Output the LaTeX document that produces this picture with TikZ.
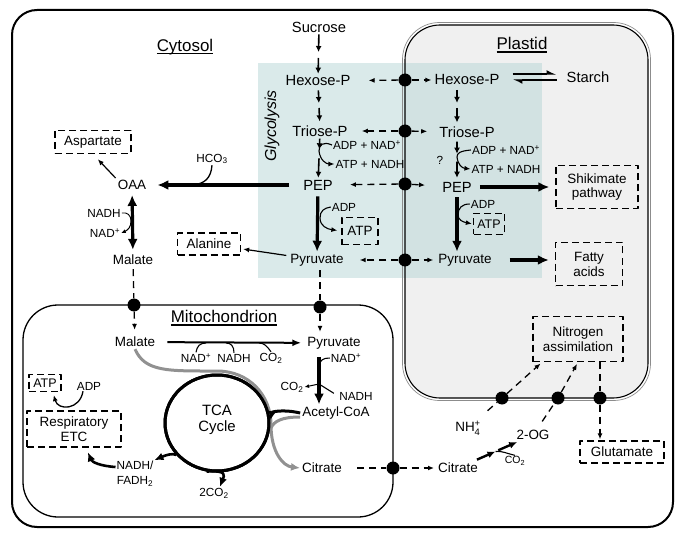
\documentclass[tikz,border=0pt]{standalone}
\usepackage{amsmath}
\usepackage{fontspec}
\setmainfont{Liberation Sans}
\usepackage{tikz}
\usetikzlibrary{arrows.meta,shapes,calc}

\definecolor{glyteal}{RGB}{181,213,213}
\definecolor{plgrey}{RGB}{240,240,240}
\definecolor{tcagrey}{RGB}{145,145,145}

\newcommand{\ulbox}[1]{\setbox0\hbox{#1}\rlap{\rule[-3bp]{\wd0}{1.5bp}}\box0}

\tikzset{
  met/.style={font=\fontsize{13.5}{15}\selectfont, inner sep=2bp},
  bigmet/.style={font=\fontsize{14.8}{16}\selectfont, inner sep=2bp},
  cof/.style={font=\fontsize{11.8}{13.5}\selectfont, inner sep=1bp},
  compt/.style={font=\fontsize{17}{19}\selectfont, inner sep=1bp},
  dbox/.style={draw, line width=1.4bp, dash pattern=on 7bp off 4bp, align=center,
               font=\fontsize{13.5}{15}\selectfont, inner sep=2bp},
  xfer/.style={line width=1.3bp, dash pattern=on 7bp off 5bp},
  tdot/.style={circle, fill, inner sep=0pt, minimum size=13bp},
  flux/.style={line width=1.6bp, -{Latex[length=6bp,width=6bp]}},
  bigflux/.style={line width=3.2bp, -{Latex[length=11bp,width=10bp]}},
  sflux/.style={line width=1bp, -{Latex[length=4.5bp,width=4bp]}},
  cofl/.style={line width=1.1bp},
}

\begin{document}
\begin{tikzpicture}[x=1bp,y=-1bp,>={Latex[length=6bp,width=5bp]},line join=bevel]
\useasboundingbox (0,0) rectangle (684,538);
%% compartments
\draw[line width=2bp, rounded corners=25bp] (12,10) rectangle (673,527);
\fill[plgrey, rounded corners=35bp] (405,25) rectangle (648,398);
\fill[glyteal, fill opacity=0.5] (258,63) rectangle (542,278);
\draw[black!45, line width=0.7bp, rounded corners=37bp] (402.5,22.5) rectangle (650.5,400.5);
\draw[line width=1.1bp, rounded corners=35bp] (405,25) rectangle (648,398);
\draw[line width=1.3bp, rounded corners=35bp] (23,305) rectangle (393,517);

  \node (cytT) at (185,47) [compt] {\ulbox{Cytosol}};
  \node (plT) at (522,45) [compt] {\ulbox{Plastid}};
  \node (mitT) at (224,318) [compt] {\ulbox{Mitochondrion}};
  \node (glyT) at (272,126) [rotate=90, font=\fontsize{16}{18}\selectfont\itshape] {Glycolysis};

%% cytosol
  \node (suc) at (319,27) [bigmet] {Sucrose};
  \node (hexC) at (318,81) [bigmet] {Hexose-P};
  \node (trioC) at (320,131) [bigmet] {Triose-P};
  \node (pepC) at (318,185) [bigmet] {PEP};
  \node (pyrC) at (317,260) [met] {Pyruvate};
  \node (oaa) at (132,185) [met] {OAA};
  \node (malC) at (133,260) [met] {Malate};
  \node (asp) at (93,142) [dbox, minimum width=76bp, minimum height=23bp] {Aspartate};
  \node (ala) at (209,244) [dbox, minimum width=63bp, minimum height=22bp] {Alanine};
  \node (atpC) at (360,231) [dbox, minimum width=36bp, minimum height=27bp] {ATP};
  \node (hco) at (212,159) [cof] {HCO\textsubscript{3}};
  \node (adnC) at (367,145) [cof] {ADP + NAD\textsuperscript{+}};
  \node (anC) at (370,164) [cof] {ATP + NADH};
  \node (adpC) at (344,207) [cof] {ADP};
  \node (nadhL) at (104,213) [cof] {NADH};
  \node (nadL) at (105,233) [cof] {NAD\textsuperscript{+}};

%% plastid
  \node (hexP) at (467,80) [bigmet] {Hexose-P};
  \node (starch) at (588,77) [bigmet] {Starch};
  \node (trioP) at (467,132) [bigmet] {Triose-P};
  \node (pepP) at (457,187) [bigmet] {PEP};
  \node (pyrP) at (465,260) [met] {Pyruvate};
  \node (adnP) at (506,150) [cof] {ADP + NAD\textsuperscript{+}};
  \node (anP) at (506,169) [cof] {ATP + NADH};
  \node (qm) at (440,160) [cof] {?};
  \node (adpP) at (483,204) [cof] {ADP};
  \node (atpP) at (489,224) [dbox, minimum width=31bp, minimum height=21bp, inner sep=1bp, font=\fontsize{12.5}{14}\selectfont] {ATP};
  \node (shik) at (597,187) [dbox, minimum width=82bp, minimum height=43bp] {Shikimate\\pathway};
  \node (fat) at (589,264) [dbox, minimum width=67bp, minimum height=43bp] {Fatty\\acids};
  \node (nit) at (578,339) [dbox, minimum width=90bp, minimum height=45bp] {Nitrogen\\assimilation};

%% mitochondrion
  \node (malM) at (135,342) [met] {Malate};
  \node (pyrM) at (334,343) [met] {Pyruvate};
  \node (acoa) at (336,413) [met] {Acetyl-CoA};
  \node (citM) at (322,468) [met] {Citrate};
  \node (nadM) at (196,358) [cof] {NAD\textsuperscript{+}};
  \node (nadhM) at (234,358) [cof] {NADH};
  \node (co2M) at (271,358) [cof] {CO\textsubscript{2}};
  \node (nadP) at (346,358) [cof] {NAD\textsuperscript{+}};
  \node (co2P) at (292,387) [cof] {CO\textsubscript{2}};
  \node (nadhP) at (356,396) [cof] {NADH};
  \node (tcaC) at (217,423) [draw, ellipse, line width=3bp, minimum width=104bp, minimum height=96bp] {};
  \node (tca) at (217,420) [align=center, font=\fontsize{15}{15.5}\selectfont] {TCA\\Cycle};
  \node (nadhF) at (135,474) [cof, align=center, font=\fontsize{11.8}{15}\selectfont] {NADH/\\FADH\textsubscript{2}};
  \node (co2T) at (214,493) [cof] {2CO\textsubscript{2}};
  \node (adpM) at (89,386) [cof] {ADP};
  \node (atpM) at (45,383) [dbox, minimum width=32bp, minimum height=17bp, inner sep=1bp, font=\fontsize{12.5}{14}\selectfont] {ATP};
  \node (etc) at (74,429) [dbox, minimum width=94bp, minimum height=36bp] {Respiratory\\ETC};

%% outside, lower right
  \node (citC) at (458,468) [met] {Citrate};
  \node (og) at (533,435) [met] {2-OG};
  \node (co2G) at (515,461) [cof, font=\fontsize{10.5}{12}\selectfont] {CO\textsubscript{2}};
  \node (nh4) at (468,428) [met] {NH$_{\text{4}}^{\text{+}}$};
  \node (glu) at (622,452) [dbox, minimum width=84bp, minimum height=22bp] {Glutamate};

%% transporters
  \node (dHex) at (405,80) [tdot] {};
  \node (dTrio) at (405,131) [tdot] {};
  \node (dPep) at (405,184) [tdot] {};
  \node (dPyr) at (405,260) [tdot] {};
  \node (dMal) at (134,305) [tdot] {};
  \node (dPyrM) at (320,307) [tdot] {};
  \node (dCit) at (393,468) [tdot] {};
  \node (dN1) at (502,398) [tdot] {};
  \node (dN2) at (558,398) [tdot] {};
  \node (dN3) at (600,398) [tdot] {};

%% exchange
  \draw [xfer,->,shorten >=16bp] (dHex) -- (hexC);
  \draw [xfer,->,shorten >=1bp] (dHex) -- (hexP);
  \draw [xfer,->,shorten >=12bp] (dTrio) -- (trioC);
  \draw [xfer,->,shorten >=10bp] (dTrio) -- (trioP);
  \draw [xfer,->,shorten >=15bp] (dPep) -- (pepC);
  \draw [xfer,->,shorten >=15bp] (dPep) -- (pepP);
  \draw [xfer,->,shorten >=14bp] (dPyr) -- (pyrC);
  \draw [xfer,->,shorten >=3bp] (dPyr) -- (pyrP);
  \draw [xfer,shorten <=2bp] (malC) -- (dMal);
  \draw [xfer,->,shorten >=5bp] (dMal) -- (malM);
  \draw [xfer,shorten <=2bp] (pyrC.south -| dPyrM) -- (dPyrM);
  \draw [xfer,->,shorten >=3bp] (dPyrM) -- (dPyrM |- pyrM.north);
  \draw [xfer,shorten <=13bp] (citM) -- (dCit);
  \draw [xfer,->,shorten >=2bp] (dCit) -- (citC);
  \draw [xfer,shorten <=12bp] (nh4) -- (dN1);
  \draw [xfer,->,shorten >=2bp] (dN1) -- ([xshift=-36bp]nit.south);
  \draw [xfer,shorten <=8bp] (og) -- (dN2);
  \draw [xfer,->,shorten >=2bp] (dN2) -- (nit.south);
  \draw [xfer] (dN3 |- nit.south) -- (dN3);
  \draw [xfer,->,shorten >=1bp] (dN3) -- (dN3 |- glu.north);

%% cytosolic glycolysis
  \draw [flux,shorten >=2bp] (suc) -- ($(suc)!0.5!(hexC)$);
  \draw [flux,shorten <=4bp] ($(suc)!0.5!(hexC)$) -- (hexC);
  \draw [flux,shorten <=2bp,shorten >=3bp] (hexC) -- ($(hexC)!0.5!(trioC)$);
  \draw [flux,shorten <=2bp,shorten >=2bp] ($(hexC)!0.5!(trioC)$) -- (trioC);
  \coordinate (mC) at ($(trioC)!0.45!(pepC)$);
  \draw [flux,shorten >=6bp] (trioC) -- (mC);
  \draw [flux,shorten <=3bp] (mC) -- (pepC);
  \coordinate (jC) at (319,151);
  \draw [cofl] (adnC.west) .. controls (323,141) and (319,145) .. (jC);
  \draw [cofl,->] (jC) .. controls (320,160) and (326,164) .. (anC.west);
  \draw [bigflux,shorten <=4bp] (pepC) -- (pyrC);
  \coordinate (jpC) at (320,218);
  \draw [cofl] (adpC.west) .. controls (324,208) and (320,211) .. (jpC);
  \draw [cofl,->,shorten >=4bp] (jpC) .. controls (320,226) and (327,229) .. (atpC.west);
  \draw [bigflux,shorten <=12bp,shorten >=9bp] (pepC) -- (oaa);
  \coordinate (jH) at (192,185);
  \draw [line width=1.3bp] (hco.south) .. controls (211,178) and (205,184) .. (jH);
  \draw [->,line width=1.2bp,shorten >=7bp] (oaa.north west) -- (asp.south);
  \draw [line width=3.2bp,{Latex[length=11bp,width=10bp]}-{Latex[length=11bp,width=10bp]},shorten <=3bp,shorten >=3bp] (oaa) -- (malC);
  \coordinate (jO) at (131,221);
  \draw [line width=0.9bp] (nadhL.east) .. controls (127,212) and (131,215) .. (jO);
  \draw [sflux] (jO) .. controls (131,227) and (128,230) .. (nadL.east);
  \draw [->,line width=1.2bp,shorten <=2bp,shorten >=2bp] (pyrC) -- (ala);

%% plastid glycolysis
  \draw [-{Latex[harpoon,length=8bp,width=8bp]},line width=1.2bp,shorten <=11bp,shorten >=8bp] ([yshift=6bp]hexP.east) -- ([yshift=6bp]hexP.east -| starch.west);
  \draw [-{Latex[harpoon,length=8bp,width=8bp]},line width=1.2bp,shorten <=8bp,shorten >=11bp] (hexP.east -| starch.west) -- (hexP.east);
  \coordinate (pa) at ([xshift=-10bp]hexP.south);
  \coordinate (pb) at (pa |- trioP.north);
  \draw [flux,shorten <=2.5bp,shorten >=3bp] (pa) -- ($(pa)!0.5!(pb)$);
  \draw [flux,shorten <=2bp,shorten >=2bp] ($(pa)!0.5!(pb)$) -- (pb);
  \coordinate (pc) at ([xshift=-10bp]trioP.south);
  \coordinate (pd) at (pc |- pepP.north);
  \draw [flux,shorten <=2bp,shorten >=4bp] (pc) -- ($(pc)!0.45!(pd)$);
  \draw [flux,shorten <=4bp,shorten >=2bp] ($(pc)!0.45!(pd)$) -- (pd);
  \coordinate (jP) at (457,157);
  \draw [cofl] (adnP.west) .. controls (460,151) and (457,153) .. (jP);
  \draw [cofl,->] (jP) .. controls (458,165) and (462,168) .. (anP.west);
  \draw [bigflux,shorten <=3bp] (pepP) -- (pepP |- pyrP.north);
  \coordinate (jpP) at (458,215);
  \draw [cofl] (adpP.west) .. controls (462,204) and (458,208) .. (jpP);
  \draw [cofl,->,shorten >=1bp] (jpP) .. controls (458,220) and (463,222) .. (atpP.west);
  \draw [bigflux,shorten <=6bp,shorten >=6bp] (pepP) -- (pepP -| shik.west);
  \draw [bigflux,shorten <=16bp,shorten >=6bp] (pyrP) -- (pyrP -| fat.west);

%% mitochondrion
  \draw [line width=2bp,-{Latex[length=9bp,width=7bp]},shorten <=10bp,shorten >=4bp] (malM) -- (pyrM);
  \coordinate (hA) at (206,343);
  \coordinate (hB) at (226,343);
  \coordinate (hC) at (259,343);
  \draw [cofl] (nadM.north) .. controls (197,346) and (200,343) .. (hA);
  \draw [cofl] (hB) .. controls (231,343) and (234,346) .. (nadhM.north);
  \draw [cofl] (hC) .. controls (264,343) and (267,346) .. (co2M.north);
  \coordinate (pA) at ([xshift=-15bp]pyrM.south);
  \draw [bigflux,shorten <=6bp] (pA) -- (pA |- acoa.north);
  \coordinate (jN) at (319,366);
  \coordinate (jA) at (319,384);
  \draw [cofl] (nadP.west) .. controls (323,358) and (320,360) .. (jN);
  \draw [sflux] (jA) -- (co2P.east);
  \draw [cofl,shorten >=5bp] (jA) -- (nadhP.west);
  \draw [tcagrey,line width=3bp,-{Latex[length=9bp,width=8bp]}] (malM.south) .. controls (145,372) and (168,371) .. (217,371) .. controls (249,371) and (271,395) .. (271,425) .. controls (271,452) and (283,466) .. (citM.west);
  \draw [tcagrey,line width=3bp] ([yshift=-4bp]acoa.west) .. controls (282,417) and (274,421) .. (271,428);
  \node (tcaC2) at (217,423) [draw, ellipse, line width=3bp, minimum width=104bp, minimum height=96bp] {};
  \draw [line width=3bp,-{Latex[length=9bp,width=8bp]}] (acoa.west) .. controls (283,409) and (272,412) .. (tcaC.3);
  \draw [line width=2.6bp,-{Latex[length=9bp,width=8bp]}] (tcaC.218) .. controls (173,453) and (166,455) .. (nadhF.north east);
  \draw [line width=2.6bp,-{Latex[length=9bp,width=8bp]}] (tcaC.258) .. controls (228,470) and (224,476) .. ([xshift=6bp]co2T.north);
  \draw [line width=2.6bp,-{Latex[length=9bp,width=8bp]},shorten >=5bp] ([yshift=7bp]nadhF.west) .. controls (100,466) and (92,462) .. ([xshift=12bp]etc.south);
  \draw [line width=1.3bp,->,shorten >=3bp] ([xshift=-6bp]adpM.south) .. controls (80,410) and (58,411) .. ([xshift=8bp]atpM.south);

%% citrate to 2-OG
  \coordinate (mG) at ($(citC)!0.5!(og)$);
  \draw [line width=2.4bp,-{Latex[length=8bp,width=7bp]},shorten <=3bp] (citC) -- (mG);
  \draw [line width=2.4bp,-{Latex[length=8bp,width=7bp]},shorten <=3bp] (mG) -- (og);
  \draw [cofl] (mG) .. controls (503,451) and (505,453) .. (co2G.north);
%
\end{tikzpicture}
\end{document}
